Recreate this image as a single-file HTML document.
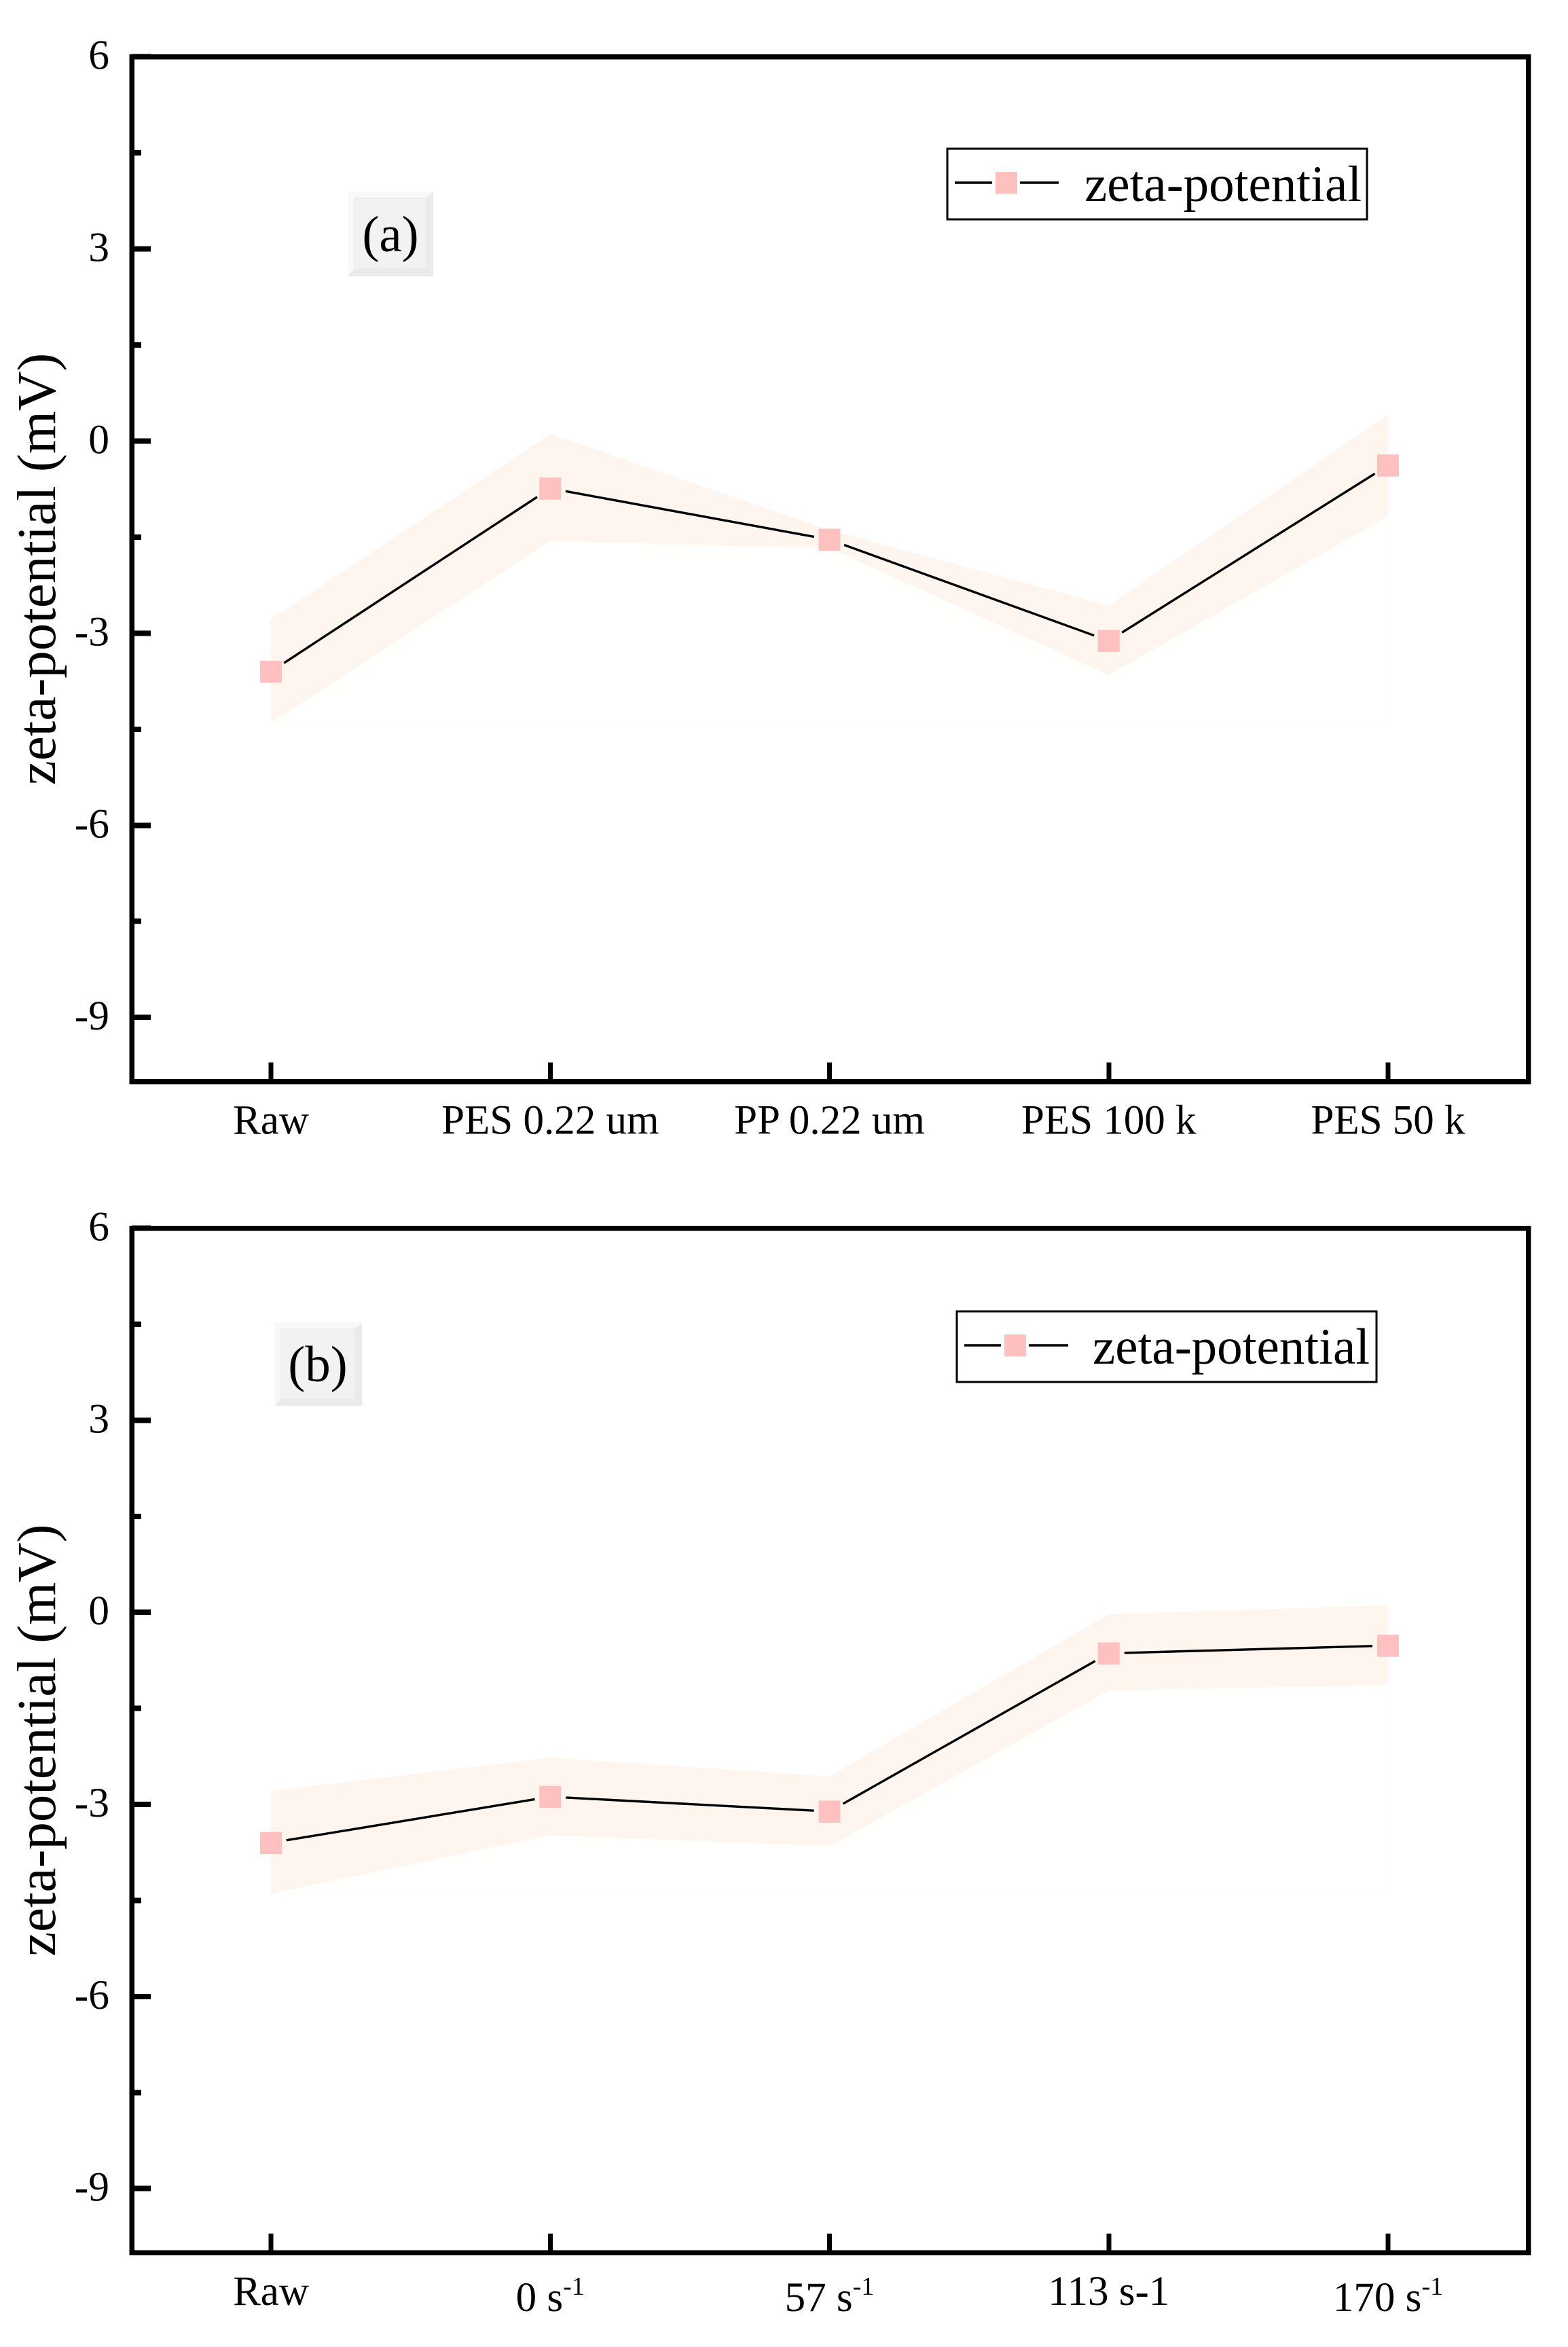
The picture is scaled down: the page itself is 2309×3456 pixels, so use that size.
<!DOCTYPE html>
<html lang="en">
<head>
<meta charset="utf-8">
<title>zeta-potential charts</title>
<style>
html,body{margin:0;padding:0;background:#fff;}
svg{display:block;}
text{font-family:"Liberation Serif","Times New Roman",serif;fill:#000;}
</style>
</head>
<body>
<svg id="figure" xmlns="http://www.w3.org/2000/svg" width="2309" height="3456" viewBox="0 0 2309 3456"></svg>
<script>
const categoriesA = ['Raw', 'PES 0.22 um', 'PP 0.22 um', 'PES 100 k', 'PES 50 k'];
const superscriptsA = ['', '', '', '', ''];
const valuesA = [-3.6, -0.74, -1.54, -3.12, -0.38];
const upperA = [-2.78, 0.11, -1.39, -2.57, 0.41];
const lowerA = [-4.4, -1.56, -1.67, -3.65, -1.17];

const categoriesB = ['Raw', '0 s', '57 s', '113 s-1', '170 s'];
const superscriptsB = ['', '-1', '-1', '', '-1'];
const valuesB = [-3.6, -2.88, -3.11, -0.64, -0.52];
const upperB = [-2.79, -2.27, -2.56, -0.03, 0.11];
const lowerB = [-4.39, -3.48, -3.65, -1.22, -1.13];

const majorTicks = [6, 3, 0, -3, -6, -9];
const minorTicks = [4.5, 1.5, -1.5, -4.5, -7.5];
const yMin = -10;
const yMax = 6;
const seriesName = 'zeta-potential';
const yTitle = 'zeta-potential (mV)';

const svg = document.getElementById('figure');
const NS = 'http://www.w3.org/2000/svg';

function make(tag, attrs, parent) {
  const node = document.createElementNS(NS, tag);
  for (const key in attrs) node.setAttribute(key, attrs[key]);
  parent.appendChild(node);
  return node;
}

function drawPanel(p) {
  const g = make('g', {}, svg);
  
  

  const left = 194, right = 2250.5;
  const x = i => 399 + (i * (2044 - 399)) / (p.categories.length - 1);
  const y = v => p.top + ((yMax - v) / (yMax - yMin)) * (p.bottom - p.top);
  const pts = (vals) => vals.map((v, i) => x(i) + ',' + y(v));

  // faint lower outline from the band to its baseline
  const base = Math.min.apply(null, p.lower);
  const lastI = p.lower.length - 1;
  const faint = make('polygon', {
    points: pts(p.lower).join(' ') + ' ' + x(lastI) + ',' + y(base) + ' ' + x(0) + ',' + y(base),
    fill: '#fffffe', stroke: '#fffaf6', 'stroke-width': 1
  }, g);
  
  

  // error band
  const band = make('polygon', {
    points: pts(p.upper).concat(pts(p.lower).reverse()).join(' '),
    fill: '#fef5ef'
  }, g);
  
  

  // line segments with gaps near the markers
  const gap = 23;
  for (let i = 0; i < p.values.length - 1; i++) {
    const x1 = x(i), y1 = y(p.values[i]), x2 = x(i + 1), y2 = y(p.values[i + 1]);
    const len = Math.hypot(x2 - x1, y2 - y1);
    const ux = (x2 - x1) / len, uy = (y2 - y1) / len;
    const seg = make('line', {
      x1: x1 + ux * gap, y1: y1 + uy * gap,
      x2: x2 - ux * gap, y2: y2 - uy * gap,
      stroke: '#000', 'stroke-width': 3.4
    }, g);
    
    
  }

  // markers
  p.values.forEach((v, i) => {
    const m = make('rect', {
      x: x(i) - 16, y: y(v) - 16, width: 32, height: 32.5, fill: '#ffc0c0'
    }, g);
    
    
  });

  // frame
  const frame = make('rect', {
    x: left, y: p.top, width: right - left, height: p.bottom - p.top,
    fill: 'none', stroke: '#000', 'stroke-width': 7.5, 'shape-rendering': 'crispEdges'
  }, g);
  
  

  // y ticks
  majorTicks.forEach(v => {
    const t = make('line', {
      x1: left, x2: 222, y1: y(v), y2: y(v),
      stroke: '#000', 'stroke-width': 8, 'shape-rendering': 'crispEdges'
    }, g);
    
    

    const lab = make('text', {
      x: 161, y: y(v) + 18, 'text-anchor': 'end', 'font-size': 61.5
    }, g);
    lab.textContent = String(v);
    
    
  });
  minorTicks.forEach(v => {
    const t = make('line', {
      x1: left, x2: 208, y1: y(v), y2: y(v),
      stroke: '#000', 'stroke-width': 8, 'shape-rendering': 'crispEdges'
    }, g);
    
    
  });

  // x ticks + labels
  p.categories.forEach((c, i) => {
    const t = make('line', {
      x1: x(i), x2: x(i), y1: p.bottom, y2: p.bottom - 28,
      stroke: '#000', 'stroke-width': 7, 'shape-rendering': 'crispEdges'
    }, g);
    
    

    const hasSup = p.sups[i] !== '';
    const lab = make('text', {
      x: x(i), y: p.bottom + (hasSup ? 86 : 77), 'text-anchor': 'middle', 'font-size': 61
    }, g);
    lab.appendChild(document.createTextNode(c));
    if (hasSup) {
      const s = make('tspan', { 'font-size': 38, dy: -24 }, lab);
      s.textContent = p.sups[i];
    }
    
    
  });

  // y axis title
  const title = make('text', {
    x: 0, y: 0, 'text-anchor': 'middle', 'font-size': 81,
    transform: 'translate(81 ' + (y(0) + 188.5) + ') rotate(-90)'
  }, g);
  title.textContent = yTitle;
  
  

  // label box with bevel
  const b = p.box;
  const boxG = make('g', {}, g);
  
  
  make('polygon', {
    points: [b.x1, b.y1, b.x2, b.y1, b.ix2, b.iy1, b.ix1, b.iy1, b.ix1, b.iy2, b.x1, b.y2].join(','),
    fill: '#f8f8f8'
  }, boxG);
  make('polygon', {
    points: [b.x2, b.y1, b.x2, b.y2, b.x1, b.y2, b.ix1, b.iy2, b.ix2, b.iy2, b.ix2, b.iy1].join(','),
    fill: '#ebebeb'
  }, boxG);
  make('rect', {
    x: b.ix1, y: b.iy1, width: b.ix2 - b.ix1, height: b.iy2 - b.iy1,
    fill: '#f2f2f2', stroke: '#e8e8e8', 'stroke-width': 1
  }, boxG);
  const boxText = make('text', {
    x: b.tx, y: b.ty, 'text-anchor': 'middle', 'font-size': 75
  }, boxG);
  boxText.textContent = p.label;
  
  

  // legend
  const l = p.legend;
  const legend = make('g', {}, g);
  
  
  make('rect', {
    x: l.x, y: l.y, width: 618, height: 104, fill: '#fff', stroke: '#000', 'stroke-width': 3
  }, legend);
  make('line', {
    x1: l.x + 11, x2: l.x + l.lineEnd, y1: l.y + 50, y2: l.y + 50, stroke: '#000', 'stroke-width': 3.4
  }, legend);
  make('line', {
    x1: l.x + l.lineStart, x2: l.x + 164, y1: l.y + 50, y2: l.y + 50, stroke: '#000', 'stroke-width': 3.4
  }, legend);
  make('rect', {
    x: l.x + l.markerDx, y: l.y + 34, width: 32, height: 32.5, fill: '#ffc0c0'
  }, legend);
  const legText = make('text', {
    x: l.x + l.textDx, y: l.y + 77, 'font-size': 75
  }, legend);
  legText.textContent = seriesName;
  
  
}

drawPanel({
  id: 'a', label: '(a)', top: 83.5, bottom: 1592.5,
  categories: categoriesA, sups: superscriptsA,
  values: valuesA, upper: upperA, lower: lowerA,
  box: { x1: 512, y1: 282, x2: 638, y2: 407, ix1: 522, iy1: 292, ix2: 628, iy2: 396, tx: 575, ty: 370 },
  legend: { x: 1395, y: 219, markerDx: 71, lineEnd: 66, lineStart: 107, textDx: 202 }
});

drawPanel({
  id: 'b', label: '(b)', top: 1808.5, bottom: 3317,
  categories: categoriesB, sups: superscriptsB,
  values: valuesB, upper: upperB, lower: lowerB,
  box: { x1: 404, y1: 1947, x2: 533, y2: 2070, ix1: 413, iy1: 1957, ix2: 523, iy2: 2060, tx: 468, ty: 2034 },
  legend: { x: 1409, y: 1931, markerDx: 70, lineEnd: 65, lineStart: 106, textDx: 200 }
});
</script>
</body>
</html>
